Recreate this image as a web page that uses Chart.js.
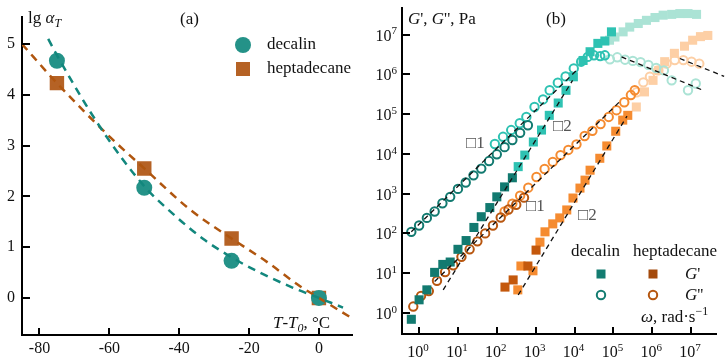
<!DOCTYPE html>
<html>
<head>
<meta charset="utf-8">
<script src="https://cdn.jsdelivr.net/npm/chart.js@4.4.1/dist/chart.umd.min.js"></script>
<style>
  html, body { margin: 0; padding: 0; background: #fff; }
  #wrap { position: relative; width: 726px; height: 363px; }
  .panel { position: absolute; top: 0; width: 363px; height: 363px; }
</style>
</head>
<body>
<div id="wrap">
  <div class="panel" style="left:0"><canvas id="chartA"></canvas></div>
  <div class="panel" style="left:363px"><canvas id="chartB"></canvas></div>
</div>
<script>
// ---- (a) シフトファクター lg aT ----
const tempPts = [-75, -50, -25, 0];
const decalinLgAT = [4.67, 2.17, 0.73, 0];
const heptaLgAT = [4.23, 2.55, 1.17, 0];
// 破線（フィット曲線）を図から読んだ点
const decalinFitT = [-77.5, -75, -62.6, -50, -41.7, -33.1, -25, -17.8, -7.4, 0, 6.9];
const decalinFitLg = [5.1, 4.78, 3.36, 2.2, 1.65, 1.16, 0.8, 0.53, 0.2, 0, -0.19];
const heptaFitT = [-85, -75, -60.6, -50, -36.9, -25, -14.9, -5.4, 0, 9.7];
const heptaFitLg = [5.0, 4.23, 3.22, 2.55, 1.74, 1.17, 0.71, 0.23, 0, -0.41];
const ticksAx = [-80, -60, -40, -20, 0];
const ticksAy = [0, 1, 2, 3, 4, 5];

// ---- (b) マスターカーブ（lg ω, lg G の値）----
// decalin G'' 低温 / 中温 / 高温
const decGppLowW = [-0.2, 0.0, 0.2, 0.4, 0.6, 0.8, 1.0, 1.2, 1.4, 1.6, 1.8, 2.0, 2.2, 2.4, 2.6, 2.8];
const decGppLowG = [2.04, 2.2, 2.39, 2.55, 2.76, 2.92, 3.12, 3.28, 3.46, 3.63, 3.82, 3.99, 4.17, 4.35, 4.53, 4.72];
const decGppMidW = [1.95, 2.16, 2.37, 2.59, 2.76, 2.97, 3.19, 3.36, 3.57, 3.77, 3.98, 4.17, 4.34, 4.5, 4.66, 4.78];
const decGppMidG = [4.25, 4.43, 4.6, 4.77, 4.93, 5.18, 5.37, 5.6, 5.79, 5.95, 6.15, 6.32, 6.44, 6.48, 6.46, 6.48];
const decGppHighW = [4.91, 5.1, 5.3, 5.5, 5.7, 5.9, 6.1, 6.3, 6.5, 6.92, 7.12];
const decGppHighG = [6.38, 6.43, 6.37, 6.34, 6.31, 6.24, 6.16, 6.1, 5.85, 5.6, 5.77];
// decalin G'
const decGpLowW = [-0.2, 0.0, 0.2, 0.4, 0.61, 0.8, 1.0, 1.21, 1.41, 1.6, 1.82, 2.0, 2.2, 2.4];
const decGpLowG = [-0.16, 0.33, 0.58, 1.02, 1.22, 1.28, 1.6, 1.82, 2.15, 2.42, 2.65, 2.92, 3.17, 3.4];
const decGpMidW = [2.55, 2.72, 2.94, 3.15, 3.35, 3.58, 3.78, 3.97, 4.22, 4.4, 4.6, 4.78, 4.95];
const decGpMidG = [3.68, 3.97, 4.3, 4.6, 4.97, 5.28, 5.6, 5.94, 6.35, 6.57, 6.78, 6.84, 7.07];
const decGpHighW = [4.9, 5.04, 5.25, 5.42, 5.64, 5.85, 6.07, 6.28, 6.5, 6.71, 6.92, 7.14];
const decGpHighG = [6.86, 6.94, 7.07, 7.19, 7.28, 7.36, 7.43, 7.49, 7.51, 7.53, 7.53, 7.51];
// heptadecane G''
const hepGppLowW = [-0.15, 0.05, 0.25, 0.46, 0.67, 0.88, 1.09, 1.3, 1.5, 1.7, 1.9, 2.1, 2.3, 2.5, 2.7];
const hepGppLowG = [0.16, 0.43, 0.55, 0.81, 1.03, 1.2, 1.41, 1.6, 1.8, 2.0, 2.2, 2.4, 2.6, 2.72, 2.9];
const hepGppMidW = [2.2, 2.4, 2.6, 2.81, 3.02, 3.23, 3.44, 3.64, 3.84, 4.05, 4.26, 4.46, 4.67, 4.88, 5.08, 5.28, 5.45, 5.55];
const hepGppMidG = [2.55, 2.75, 2.95, 3.15, 3.42, 3.62, 3.8, 3.97, 4.1, 4.24, 4.45, 4.58, 4.75, 4.93, 5.1, 5.3, 5.48, 5.6];
const hepGppHighW = [5.6, 5.77, 5.94, 6.15, 6.37, 6.58, 6.8, 7.01, 7.21];
const hepGppHighG = [5.55, 5.8, 5.94, 6.1, 6.27, 6.36, 6.36, 6.32, 6.27];
// heptadecane G'
const hepGpLowW = [2.21, 2.42, 2.8, 3.01];
const hepGpLowG = [0.65, 0.83, 1.18, 1.58];
const hepGpMidW = [2.54, 2.62, 2.93, 3.11, 3.24, 3.44, 3.62, 3.8, 3.96, 4.14, 4.27, 4.4, 4.65, 4.83, 5.06, 5.24, 5.37];
const hepGpMidG = [0.58, 1.18, 1.06, 1.78, 2.04, 2.24, 2.39, 2.59, 2.89, 3.14, 3.34, 3.59, 3.89, 4.2, 4.57, 4.85, 4.97];
const hepGpHighW = [5.59, 5.8, 6.02, 6.17, 6.32, 6.57, 6.83, 7.04, 7.24, 7.43];
const hepGpHighG = [5.18, 5.56, 5.85, 6.1, 6.32, 6.53, 6.71, 6.86, 6.95, 6.98];
// 傾きの破線
const slopeLines = [
  { w: [-0.2, 4.05], g: [2.04, 6.1] },
  { w: [0.62, 3.95], g: [0.58, 5.85] },
  { w: [0.4, 5.2], g: [0.79, 5.35] },
  { w: [2.55, 5.35], g: [0.45, 4.95] },
  { w: [5.21, 7.31], g: [6.44, 5.6] },
  { w: [6.71, 7.85], g: [6.4, 5.95] }
];
const ticksBexp = [0, 1, 2, 3, 4, 5, 6, 7];

const SERIF = '"Liberation Serif", "DejaVu Serif", serif';

function pairs(xs, ys) { return xs.map((x, i) => ({ x: x, y: ys[i] })); }
function logPairs(lw, lg) { return lw.map((w, i) => ({ x: Math.pow(10, w), y: Math.pow(10, lg[i]) })); }

// 軸の内側に短い目盛りを描く
const innerTicks = {
  id: 'innerTicks',
  afterDraw(chart) {
    const ctx = chart.ctx;
    const { left, bottom } = chart.chartArea;
    const xs = chart.scales.x, ys = chart.scales.y;
    ctx.save();
    ctx.strokeStyle = '#000';
    ctx.lineWidth = 2;
    ctx.beginPath();
    xs.ticks.forEach(t => {
      const p = Math.round(xs.getPixelForValue(t.value));
      ctx.moveTo(p, bottom); ctx.lineTo(p, bottom - 7);
    });
    ys.ticks.forEach(t => {
      const p = Math.round(ys.getPixelForValue(t.value));
      ctx.moveTo(left, p); ctx.lineTo(left + 8, p);
    });
    ctx.stroke();
    ctx.restore();
  }
};

// 斜体・下付きを含む文字列
function rich(ctx, x, y, parts, size, color, measureOnly) {
  ctx.fillStyle = color || '#111';
  ctx.textBaseline = 'alphabetic';
  ctx.textAlign = 'left';
  let cx = x;
  parts.forEach(([t, s]) => {
    const italic = s.indexOf('i') === 0;
    const sub = s.indexOf('sub') >= 0, sup = s.indexOf('sup') >= 0;
    const fs = (sub || sup) ? Math.round(size * 0.7) : size;
    ctx.font = (italic ? 'italic ' : '') + fs + 'px ' + SERIF;
    const dy = sub ? size * 0.25 : sup ? -size * 0.4 : 0;
    if (!measureOnly) ctx.fillText(t, cx, y + dy);
    cx += ctx.measureText(t).width;
  });
  return cx - x;
}

function text(ctx, t, x, y, size, color) {
  ctx.font = size + 'px ' + SERIF;
  ctx.fillStyle = color || '#111';
  ctx.textAlign = 'left';
  ctx.textBaseline = 'middle';
  ctx.fillText(t, x, y);
}

const labelsA = {
  id: 'labelsA',
  afterDraw(chart) {
    const ctx = chart.ctx;
    ctx.save();
    rich(ctx, 28, 23, [['lg ', ''], ['α', 'i'], ['T', 'isub']], 17);
    text(ctx, '(a)', 180, 20, 17);
    // 凡例
    ctx.fillStyle = '#249288';
    ctx.beginPath(); ctx.arc(243, 45, 8, 0, Math.PI * 2); ctx.fill();
    ctx.fillStyle = '#b56225';
    ctx.fillRect(236, 62, 14, 14);
    text(ctx, 'decalin', 267, 45, 17);
    text(ctx, 'heptadecane', 267, 69, 17);
    rich(ctx, 273, 328, [['T', 'i'], ['-', ''], ['T', 'i'], ['0', 'isub'], [', °C', '']], 17);
    ctx.restore();
  }
};

const labelsB = {
  id: 'labelsB',
  afterDraw(chart) {
    const ctx = chart.ctx;
    const xs = chart.scales.x, ys = chart.scales.y;
    const { left, bottom } = chart.chartArea;
    ctx.save();
    // 10^n の目盛りラベル
    xs.ticks.forEach(t => {
      const e = String(Math.round(Math.log10(t.value)));
      const parts = [['10', ''], [e, 'sup']];
      const w = rich(ctx, 0, 0, parts, 16, '#111', true);
      rich(ctx, xs.getPixelForValue(t.value) - w / 2 - 1, bottom + 23, parts, 16);
    });
    ys.ticks.forEach(t => {
      const e = String(Math.round(Math.log10(t.value)));
      const parts = [['10', ''], [e, 'sup']];
      const w = rich(ctx, 0, 0, parts, 16, '#111', true);
      rich(ctx, left - 5 - w, ys.getPixelForValue(t.value) + 6, parts, 16);
    });
    rich(ctx, 45, 24, [['G', 'i'], ["', ", ''], ['G', 'i'], ["'', Pa", '']], 17);
    text(ctx, '(b)', 183, 20, 17);
    text(ctx, '□1', 103, 144, 17, '#555');
    text(ctx, '□2', 190, 127, 17, '#555');
    text(ctx, '□1', 163, 207, 17, '#555');
    text(ctx, '□2', 215, 216, 17, '#555');
    // 凡例
    text(ctx, 'decalin', 208, 252, 17);
    text(ctx, 'heptadecane', 270, 252, 17);
    ctx.fillStyle = '#137c71'; ctx.fillRect(233.5, 269.5, 9, 9);
    ctx.fillStyle = '#a44a0c'; ctx.fillRect(285.5, 269.5, 9, 9);
    ctx.lineWidth = 2;
    ctx.strokeStyle = '#137c71';
    ctx.beginPath(); ctx.arc(238, 295, 4.2, 0, Math.PI * 2); ctx.stroke();
    ctx.strokeStyle = '#b5560f';
    ctx.beginPath(); ctx.arc(290, 295, 4.2, 0, Math.PI * 2); ctx.stroke();
    rich(ctx, 322, 279, [['G', 'i'], ["'", '']], 17);
    rich(ctx, 322, 300, [['G', 'i'], ["''", '']], 17);
    rich(ctx, 278, 322, [['ω', 'i'], [', rad·s', ''], ['−1', 'sup']], 17);
    ctx.restore();
  }
};

const axisFont = { family: SERIF, size: 16 };

// ---- chart (a) ----
new Chart(document.getElementById('chartA'), {
  type: 'scatter',
  data: {
    datasets: [
      {
        type: 'line', data: pairs(decalinFitT, decalinFitLg),
        borderColor: '#12877d', borderWidth: 2.5, borderDash: [8, 6],
        pointRadius: 0, fill: false, cubicInterpolationMode: 'monotone'
      },
      {
        type: 'line', data: pairs(heptaFitT, heptaFitLg),
        borderColor: '#b0560f', borderWidth: 2.5, borderDash: [8, 6],
        pointRadius: 0, fill: false, cubicInterpolationMode: 'monotone'
      },
      {
        label: 'decalin', data: pairs(tempPts, decalinLgAT),
        pointStyle: 'circle', pointRadius: 8, backgroundColor: '#249288', borderWidth: 0
      },
      {
        label: 'heptadecane', data: pairs(tempPts, heptaLgAT),
        pointStyle: 'rect', pointRadius: 10.2, backgroundColor: '#b56225', borderWidth: 0
      }
    ]
  },
  options: {
    responsive: true, maintainAspectRatio: false, animation: false,
    layout: { padding: { top: 10, right: 10, left: 0, bottom: 0 } },
    plugins: { legend: { display: false }, tooltip: { enabled: false } },
    scales: {
      x: {
        type: 'linear', min: -85, max: 9.7,
        afterBuildTicks: s => { s.ticks = ticksAx.map(v => ({ value: v })); },
        afterFit: s => { s.height = 28; },
        grid: { display: false, drawTicks: false },
        border: { color: '#000', width: 2 },
        ticks: { color: '#111', font: axisFont, padding: 4, maxRotation: 0 }
      },
      y: {
        type: 'linear', min: -0.73, max: 5.54,
        afterBuildTicks: s => { s.ticks = ticksAy.map(v => ({ value: v })); },
        afterFit: s => { s.width = 22; },
        grid: { display: false, drawTicks: false },
        border: { color: '#000', width: 2 },
        ticks: { color: '#111', font: axisFont, padding: 7 }
      }
    }
  },
  plugins: [innerTicks, labelsA]
});

// ---- chart (b) ----
const DEC_DARK = '#127a70', DEC_MID = '#2ec2b2', DEC_PALE = '#abe3d5';
const HEP_DARK = '#c4580c', HEP_CIRC = '#b8560f', HEP_MID = '#f58b30', HEP_PALE = '#fdcfa5';

function sq(lw, lg, color) {
  return { data: logPairs(lw, lg), pointStyle: 'rect', pointRadius: 6.4, backgroundColor: color, borderWidth: 0 };
}
function ring(lw, lg, color) {
  return { data: logPairs(lw, lg), pointStyle: 'circle', pointRadius: 4.2, backgroundColor: 'rgba(0,0,0,0)', borderColor: color, borderWidth: 2 };
}

const lineSets = slopeLines.map(l => ({
  type: 'line', data: logPairs(l.w, l.g), borderColor: '#111', borderWidth: 1.3,
  borderDash: [5, 4], pointRadius: 0, fill: false, clip: false
}));

new Chart(document.getElementById('chartB'), {
  type: 'scatter',
  data: {
    datasets: lineSets.concat([
      ring(decGppLowW, decGppLowG, DEC_DARK),
      sq(decGpLowW, decGpLowG, DEC_DARK),
      ring(hepGppLowW, hepGppLowG, HEP_CIRC),
      sq(hepGpLowW, hepGpLowG, HEP_DARK),
      ring(decGppMidW, decGppMidG, DEC_MID),
      sq(decGpMidW, decGpMidG, DEC_MID),
      ring(hepGppMidW, hepGppMidG, HEP_MID),
      sq(hepGpMidW, hepGpMidG, HEP_MID),
      ring(decGppHighW, decGppHighG, DEC_PALE),
      sq(decGpHighW, decGpHighG, DEC_PALE),
      ring(hepGppHighW, hepGppHighG, HEP_PALE),
      sq(hepGpHighW, hepGpHighG, HEP_PALE)
    ])
  },
  options: {
    responsive: true, maintainAspectRatio: false, animation: false,
    layout: { padding: { top: 8, right: 10, left: 0, bottom: 0 } },
    plugins: { legend: { display: false }, tooltip: { enabled: false } },
    scales: {
      x: {
        type: 'logarithmic', min: 0.363, max: 4.37e7,
        afterBuildTicks: s => { s.ticks = ticksBexp.map(e => ({ value: Math.pow(10, e) })); },
        afterFit: s => { s.height = 29; },
        grid: { display: false, drawTicks: false },
        border: { color: '#000', width: 2 },
        ticks: { display: false }
      },
      y: {
        type: 'logarithmic', min: 0.295, max: 4.68e7,
        afterBuildTicks: s => { s.ticks = ticksBexp.map(e => ({ value: Math.pow(10, e) })); },
        afterFit: s => { s.width = 39; },
        grid: { display: false, drawTicks: false },
        border: { color: '#000', width: 2 },
        ticks: { display: false }
      }
    }
  },
  plugins: [innerTicks, labelsB]
});
</script>
</body>
</html>
